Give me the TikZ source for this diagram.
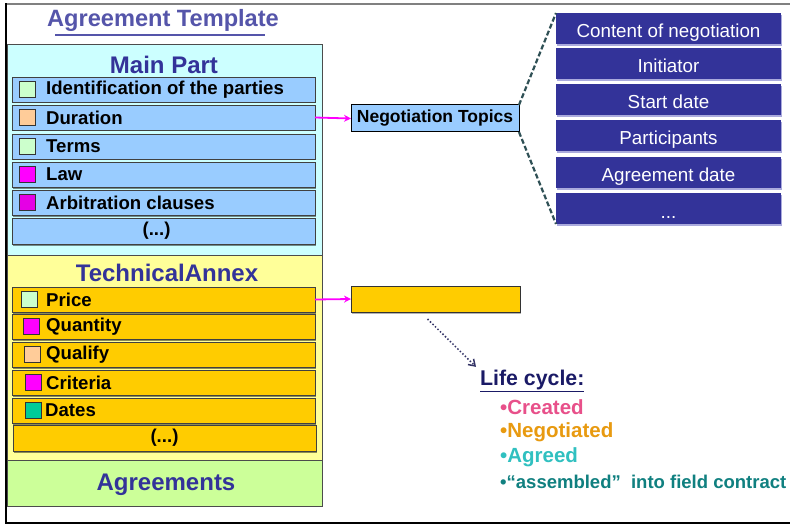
\documentclass[tikz,border=0pt]{standalone}
\usepackage{fontspec}
\setmainfont{Liberation Sans}
\usetikzlibrary{arrows.meta,shadows}
\definecolor{navy}{HTML}{333399}
\definecolor{titleblue}{HTML}{5555AA}
\definecolor{panelcyan}{HTML}{CCFFFF}
\definecolor{panelyellow}{HTML}{FFFF99}
\definecolor{panelgreen}{HTML}{CCFF99}
\definecolor{rowblue}{HTML}{99CCFF}
\definecolor{rowgold}{HTML}{FFCC00}
\definecolor{sqgreen}{HTML}{CCFFCC}
\definecolor{sqpeach}{HTML}{FFCC99}
\definecolor{sqmag}{HTML}{FF00FF}
\definecolor{sqteal}{HTML}{00CC99}
\definecolor{lavender}{HTML}{AAAADD}
\definecolor{dashcol}{HTML}{2F5055}
\definecolor{dotcol}{HTML}{333366}
\definecolor{lcnavy}{HTML}{1A1A66}
\definecolor{lcpink}{HTML}{E8508A}
\definecolor{lcorange}{HTML}{E89A10}
\definecolor{lcteal}{HTML}{30C0C0}
\definecolor{lcdark}{HTML}{108080}
\begin{document}
\begin{tikzpicture}[x=1pt,y=-1pt,
  panel/.style={draw=black!70, line width=0.8pt, anchor=north west, inner sep=0pt, outer sep=0pt, minimum width=315pt},
  hdr/.style={text=navy, font=\fontsize{24}{26}\selectfont\bfseries, inner sep=0pt},
  rowbox/.style={draw=black!75, line width=0.8pt, minimum width=303pt, minimum height=25pt, anchor=north west, inner sep=0pt, outer sep=0pt, drop shadow={shadow xshift=1pt, shadow yshift=-1.5pt, opacity=0.45, fill=black}},
  lbl/.style={font=\fontsize{18.6}{20}\selectfont\bfseries, anchor=west, inner sep=0pt},
  sq/.style={draw=black!80, line width=0.8pt, minimum size=16pt, inner sep=0pt},
  rbox/.style={fill=navy, minimum width=225pt, minimum height=31pt, anchor=north west, text=white, font=\fontsize{18.8}{20}\selectfont, text height=19pt, text depth=0pt, inner sep=0pt, outer sep=0pt, drop shadow={shadow xshift=1pt, shadow yshift=-2pt, opacity=1, fill=lavender}},
  magarrow/.style={draw=sqmag, line width=1.8pt, -{Stealth[length=7pt,width=7pt]}},
  dashline/.style={draw=dashcol, line width=2.2pt, dash pattern=on 5pt off 2.5pt},
  dotarrow/.style={draw=dotcol, line width=1.5pt, dotted, -{Straight Barb[length=6pt,width=8pt]}},
  lc/.style={font=\fontsize{20.5}{22}\selectfont\bfseries, anchor=west, inner sep=0pt}
]
\useasboundingbox (0,0) rectangle (790,524);
\fill[white] (0,0) rectangle (790,524);

% outer frame
\draw[black!50, line width=2pt] (6,4) -- (790,4);
\draw[black, line width=2pt] (790,523) -- (6,523) -- (6,3);

% title
\node[text=titleblue, font=\fontsize{23.6}{25}\selectfont\bfseries, inner sep=0pt] (title) at (163,20) {Agreement Template};
\draw[titleblue, line width=1.5pt] (55,35) -- (265,35);

% panels
\node[panel, fill=panelcyan, minimum height=211pt] (mainpanel) at (7,44) {};
\node[panel, fill=panelyellow, minimum height=205pt] (techpanel) at (7,255) {};
\node[panel, fill=panelgreen, minimum height=46pt] (agreepanel) at (7,460) {};

\node[hdr] (mainhdr) at (164,65) {Main Part};
\node[hdr] (techhdr) at (167,273) {TechnicalAnnex};
\node[hdr] (agreehdr) at (166,485) {Agreements};

% main part rows
\node[rowbox, fill=rowblue] (m1) at (12,77) {};
\node[rowbox, fill=rowblue] (m2) at (12,105) {};
\node[rowbox, fill=rowblue] (m3) at (12,134) {};
\node[rowbox, fill=rowblue] (m4) at (12,162) {};
\node[rowbox, fill=rowblue] (m5) at (12,190) {};
\node[rowbox, fill=rowblue, minimum height=26pt] (m6) at (12,218) {};

\node[sq, fill=sqgreen] (m1s) at ([xshift=15pt]m1.west) {};
\node[sq, fill=sqpeach] (m2s) at ([xshift=15pt]m2.west) {};
\node[sq, fill=sqgreen] (m3s) at ([xshift=15pt]m3.west) {};
\node[sq, fill=sqmag] (m4s) at ([xshift=15pt]m4.west) {};
\node[sq, fill=sqmag!90!black] (m5s) at ([xshift=15pt]m5.west) {};

\node[lbl] (m1t) at ([xshift=34pt]m1.west) {Identification of the parties};
\node[lbl] (m2t) at ([xshift=34pt]m2.west) {Duration};
\node[lbl] (m3t) at ([xshift=34pt]m3.west) {Terms};
\node[lbl] (m4t) at ([xshift=34pt]m4.west) {Law};
\node[lbl] (m5t) at ([xshift=34pt]m5.west) {Arbitration clauses};
\node[lbl, anchor=center] (m6t) at ([xshift=-7pt]m6.center) {(...)};

% technical annex rows
\node[rowbox, fill=rowgold] (t1) at (12,287) {};
\node[rowbox, fill=rowgold] (t2) at (12,314) {};
\node[rowbox, fill=rowgold] (t3) at (12,342) {};
\node[rowbox, fill=rowgold] (t4) at (12,370) {};
\node[rowbox, fill=rowgold] (t5) at (12,398) {};
\node[rowbox, fill=rowgold, minimum height=26pt] (t6) at (13,425) {};

\node[sq, fill=sqgreen] (t1s) at ([xshift=17pt]t1.west) {};
\node[sq, fill=sqmag] (t2s) at ([xshift=19pt]t2.west) {};
\node[sq, fill=sqpeach] (t3s) at ([xshift=20pt]t3.west) {};
\node[sq, fill=sqmag] (t4s) at ([xshift=21pt]t4.west) {};
\node[sq, fill=sqteal] (t5s) at ([xshift=21pt]t5.west) {};

\node[lbl] (t1t) at ([xshift=34pt]t1.west) {Price};
\node[lbl] (t2t) at ([xshift=34pt]t2.west) {Quantity};
\node[lbl] (t3t) at ([xshift=34pt]t3.west) {Qualify};
\node[lbl] (t4t) at ([xshift=34pt]t4.west) {Criteria};
\node[lbl] (t5t) at ([xshift=33pt]t5.west) {Dates};
\node[lbl, anchor=center] (t6t) at (t6.center) {(...)};

% negotiation topics
\node[draw=black, line width=1pt, fill=rowblue, minimum width=168pt, minimum height=27pt, anchor=north west, inner sep=0pt, outer sep=0pt, font=\fontsize{17.5}{19}\selectfont\bfseries] (neg) at (351,105) {Negotiation Topics};

% gold box
\node[draw=black!80, line width=1pt, fill=rowgold, minimum width=169pt, minimum height=26pt, anchor=north west, inner sep=0pt, outer sep=0pt, drop shadow={shadow xshift=1pt, shadow yshift=-2pt, opacity=0.3, fill=black}] (gold) at (351,286) {};

% right boxes
\node[rbox] (c1) at (556,13) {Content of negotiation};
\node[rbox] (c2) at (556,48) {Initiator};
\node[rbox] (c3) at (556,84) {Start date};
\node[rbox] (c4) at (556,120) {Participants};
\node[rbox] (c5) at (556,157) {Agreement date};
\node[rbox] (c6) at (556,193) {...};

% connectors
\draw[magarrow] (m2.east) -- (neg.west);
\draw[magarrow] (t1.east) -- (gold.west);
\draw[dashline] (neg.north east) -- (c1.north west);
\draw[dashline] (neg.south east) -- (c6.south west);

% life cycle
\node[lc, text=lcnavy, font=\fontsize{21.3}{23}\selectfont\bfseries] (life) at (480,381) {\underline{Life cycle:}};
\node[lc, text=lcpink] (lc1) at (500,407) {\textbullet Created};
\node[lc, text=lcorange] (lc2) at (500,432) {\textbullet Negotiated};
\node[lc, text=lcteal] (lc3) at (500,457) {\textbullet Agreed};
\node[lc, text=lcdark, font=\fontsize{18.5}{20}\selectfont\bfseries] (lc4) at (500,482) {\textbullet``assembled''\ \ into field contract};

\draw[dotarrow] ([shift={(-8pt,-7pt)}]gold.south) -- ([shift={(-4pt,3pt)}]life.north west);
\end{tikzpicture}
\end{document}
